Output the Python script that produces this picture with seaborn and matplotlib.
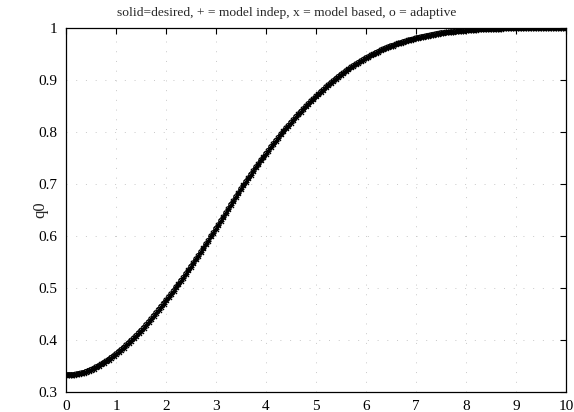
import numpy as np
import matplotlib
matplotlib.use("Agg")
import matplotlib.pyplot as plt
import seaborn as sns

# time axis, 0.05 s steps
t = np.arange(201) * 0.05

# q0 (desired trajectory)
q0_desired = [
    0.333, 0.333, 0.333, 0.333, 0.334, 0.335, 0.336, 0.337, 0.339, 0.341,
    0.343, 0.345, 0.348, 0.350, 0.353, 0.356, 0.359, 0.362, 0.366, 0.369,
    0.373, 0.377, 0.381, 0.385, 0.390, 0.394, 0.399, 0.403, 0.408, 0.413,
    0.418, 0.423, 0.429, 0.434, 0.440, 0.446, 0.452, 0.458, 0.464, 0.470,
    0.476, 0.482, 0.488, 0.494, 0.501, 0.507, 0.514, 0.520, 0.527, 0.534,
    0.541, 0.548, 0.555, 0.562, 0.569, 0.576, 0.584, 0.591, 0.599, 0.606,
    0.614, 0.621, 0.629, 0.636, 0.644, 0.652, 0.660, 0.667, 0.675, 0.682,
    0.690, 0.697, 0.704, 0.711, 0.718, 0.725, 0.732, 0.738, 0.745, 0.751,
    0.758, 0.764, 0.771, 0.777, 0.783, 0.789, 0.795, 0.801, 0.807, 0.812,
    0.818, 0.823, 0.829, 0.834, 0.839, 0.844, 0.849, 0.854, 0.859, 0.863,
    0.868, 0.872, 0.877, 0.881, 0.886, 0.890, 0.894, 0.898, 0.902, 0.906,
    0.910, 0.913, 0.917, 0.920, 0.924, 0.927, 0.930, 0.933, 0.936, 0.939,
    0.942, 0.944, 0.947, 0.949, 0.952, 0.954, 0.957, 0.959, 0.961, 0.963,
    0.965, 0.966, 0.968, 0.970, 0.971, 0.973, 0.974, 0.976, 0.977, 0.978,
    0.980, 0.981, 0.982, 0.983, 0.984, 0.985, 0.986, 0.987, 0.988, 0.989,
    0.990, 0.990, 0.991, 0.991, 0.992, 0.992, 0.993, 0.993, 0.994, 0.994,
    0.995, 0.995, 0.996, 0.996, 0.996, 0.997, 0.997, 0.997, 0.997, 0.998,
    0.998, 0.998, 0.998, 0.998, 0.998, 0.999, 0.999, 0.999, 0.999, 0.999,
    0.999, 0.999, 0.999, 0.999, 1.000, 1.000, 1.000, 1.000, 1.000, 1.000,
    1.000, 1.000, 1.000, 1.000, 1.000, 1.000, 1.000, 1.000, 1.000, 1.000,
    1.000,
]
# the three controllers track the desired curve so closely they overlap
q0_model_indep = q0_desired
q0_model_based = q0_desired
q0_adaptive = q0_desired

x_ticks = [0, 1, 2, 3, 4, 5, 6, 7, 8, 9, 10]
y_ticks = [0.3, 0.4, 0.5, 0.6, 0.7, 0.8, 0.9, 1.0]
y_labels = ["0.3", "0.4", "0.5", "0.6", "0.7", "0.8", "0.9", "1"]

sns.set_style("white")
plt.rcParams["font.family"] = ["Liberation Serif", "DejaVu Serif"]
plt.rcParams["font.size"] = 10

fig = plt.figure(figsize=(5.74, 4.12), dpi=100)
ax = fig.add_axes([0.115, 0.0485, 0.871, 0.884])

sns.lineplot(x=t, y=q0_desired, color="black", linewidth=1.2, ax=ax)
sns.scatterplot(x=t, y=q0_model_indep, marker="+", color="black", s=20,
                linewidth=0.9, ax=ax)
sns.scatterplot(x=t, y=q0_model_based, marker="x", color="black", s=13,
                linewidth=0.9, ax=ax)
sns.scatterplot(x=t, y=q0_adaptive, marker="o", facecolor="none",
                edgecolor="black", s=11, linewidth=0.7, ax=ax)

ax.set_xlim(0, 10)
ax.set_ylim(0.3, 1.0)
ax.set_xticks(x_ticks)
ax.set_yticks(y_ticks)
ax.set_yticklabels(y_labels)
ax.grid(True, linestyle=(0, (1, 9)), color="#c8c8c8", linewidth=0.7)
ax.tick_params(direction="in", length=4, width=0.8, top=True, right=True,
               labelsize=11, colors="black")
ax.tick_params(axis="x", pad=6)
ax.tick_params(axis="y", pad=6)
for side in ax.spines.values():
    side.set_color("black")
    side.set_linewidth(0.9)

ax.set_ylabel("q0", fontsize=12)
ax.yaxis.set_label_coords(-0.036, 0.5)
fig.text(0.499, 0.968, "solid=desired, + = model indep, x = model based, o = adaptive",
         fontsize=9.7, ha="center", va="center")

fig.savefig("out.png", dpi=100)
